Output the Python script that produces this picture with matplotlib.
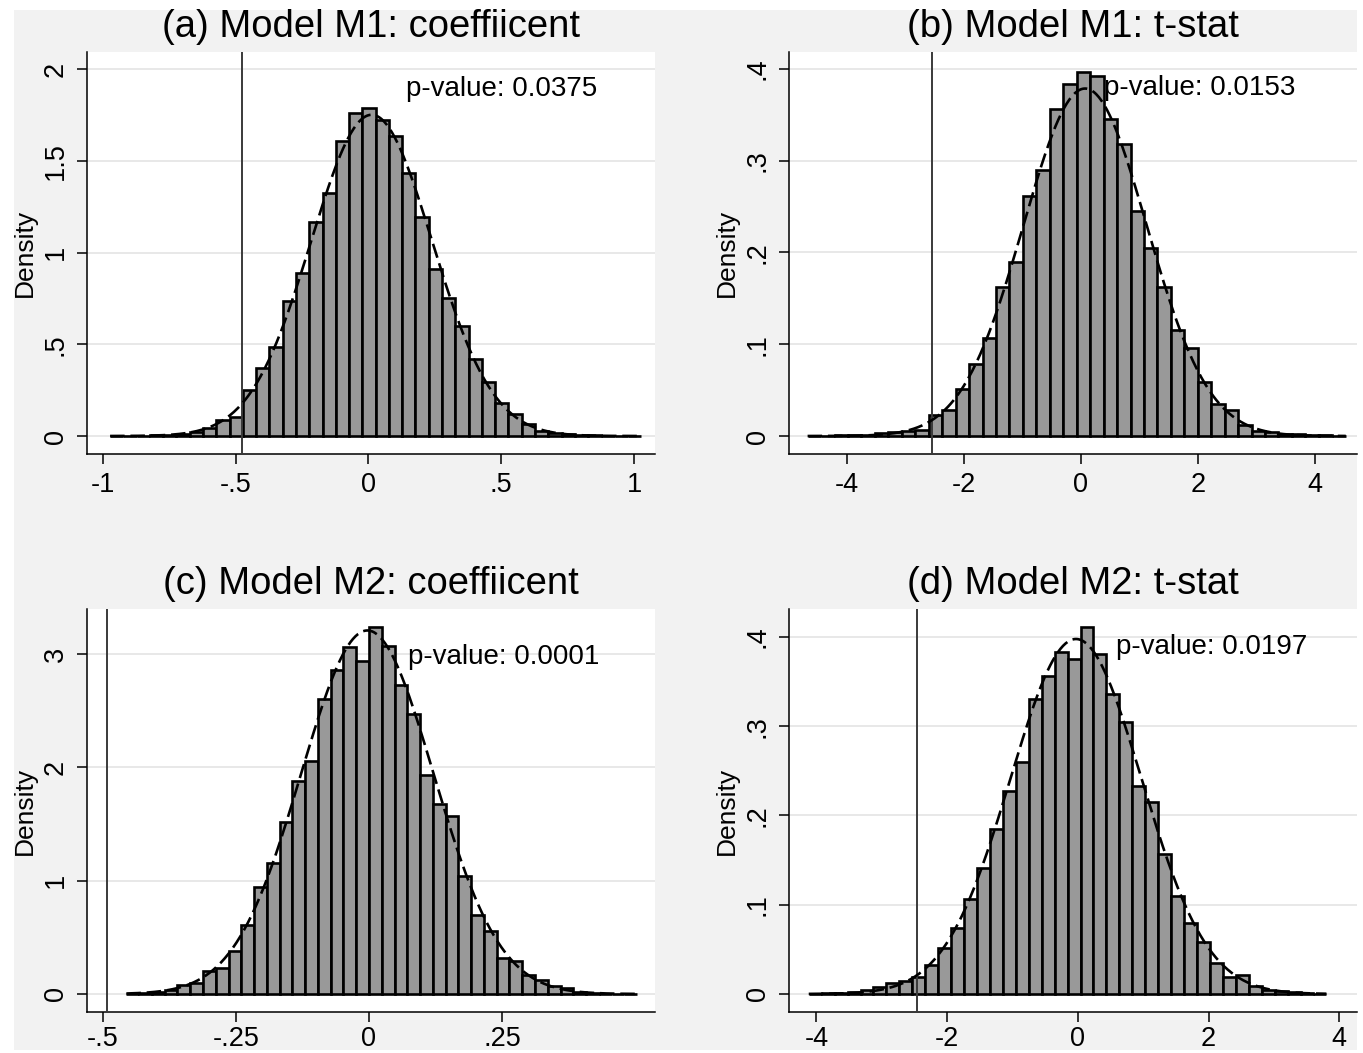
import matplotlib
matplotlib.use('Agg')
import matplotlib.pyplot as plt
from matplotlib.patches import Rectangle
import numpy as np

plt.rcParams['font.family'] = ['Liberation Sans', 'DejaVu Sans']

# ---- data (density per bin) ----
titles = ['(a) Model M1: coeffiicent', '(b) Model M1: t-stat',
          '(c) Model M2: coeffiicent', '(d) Model M2: t-stat']
pvalues = ['p-value: 0.0375', 'p-value: 0.0153', 'p-value: 0.0001', 'p-value: 0.0197']

a_start, a_width = -0.973, 0.05
a_heights = [0.0, 0.001, 0.002, 0.003, 0.006, 0.012, 0.02,
             0.045, 0.085, 0.104, 0.249, 0.372, 0.485, 0.736, 0.886, 1.168,
             1.326, 1.608, 1.762, 1.789, 1.720, 1.635, 1.435, 1.193, 0.908,
             0.750, 0.599, 0.421, 0.294, 0.178, 0.118, 0.064, 0.027, 0.018,
             0.01, 0.006, 0.003, 0.002, 0.001, 0.002]
a_obs = -0.475

b_start, b_width = -4.672, 0.23
b_heights = [0.0003, 0.0005, 0.0008, 0.001, 0.0015, 0.003, 0.004,
             0.005, 0.007, 0.023, 0.028, 0.051, 0.079, 0.107, 0.162, 0.190,
             0.262, 0.290, 0.356, 0.384, 0.397, 0.392, 0.346, 0.318, 0.245,
             0.205, 0.162, 0.115, 0.096, 0.059, 0.035, 0.028, 0.012, 0.006,
             0.004, 0.002, 0.002, 0.001, 0.001, 0.0005]
b_obs = -2.545

c_start, c_width = -0.456, 0.024
c_heights = [0.004, 0.008, 0.02, 0.035,
             0.079, 0.097, 0.2, 0.229, 0.376, 0.609, 0.947, 1.156, 1.521,
             1.876, 2.059, 2.603, 2.862, 3.065, 2.941, 3.235, 3.074, 2.729,
             2.471, 1.932, 1.676, 1.568, 1.038, 0.697, 0.559, 0.315, 0.294,
             0.168, 0.124, 0.074, 0.053, 0.015,
             0.008, 0.004, 0.003, 0.002]
c_obs = -0.4915

d_start, d_width = -4.118, 0.198
d_heights = [0.0005, 0.0008, 0.001, 0.002, 0.004, 0.008,
             0.012, 0.014, 0.019, 0.033, 0.052, 0.074, 0.106, 0.141, 0.185,
             0.227, 0.260, 0.330, 0.356, 0.383, 0.375, 0.411, 0.381, 0.336,
             0.305, 0.233, 0.215, 0.157, 0.110, 0.080, 0.058, 0.035, 0.019,
             0.021, 0.009, 0.005,
             0.003, 0.002, 0.001, 0.0005]
d_obs = -2.457

a_xticks, a_xlabels = [-1, -0.5, 0, 0.5, 1], ['-1', '-.5', '0', '.5', '1']
a_yticks, a_ylabels = [0, 0.5, 1, 1.5, 2], ['0', '.5', '1', '1.5', '2']
b_xticks, b_xlabels = [-4, -2, 0, 2, 4], ['-4', '-2', '0', '2', '4']
b_yticks, b_ylabels = [0, 0.1, 0.2, 0.3, 0.4], ['0', '.1', '.2', '.3', '.4']
c_xticks, c_xlabels = [-0.5, -0.25, 0, 0.25], ['-.5', '-.25', '0', '.25']
c_yticks, c_ylabels = [0, 1, 2, 3], ['0', '1', '2', '3']
d_xticks, d_xlabels = [-4, -2, 0, 2, 4], ['-4', '-2', '0', '2', '4']
d_yticks, d_ylabels = [0, 0.1, 0.2, 0.3, 0.4], ['0', '.1', '.2', '.3', '.4']

W, H = 1363, 1053
fig = plt.figure(figsize=(W / 100, H / 100), dpi=100, facecolor='white')
fig.patches.append(Rectangle((14 / W, 3 / H), (1357 - 14) / W, (1043 - 3) / H,
                             transform=fig.transFigure, facecolor='#f2f2f2',
                             edgecolor='none', zorder=-10))


def draw_panel(rect, start, width, heights, obs, xticks, xlabels, yticks, ylabels,
               xlim, ylim, title, ptext, ppos, xpad=6):
    ax = fig.add_axes(rect)
    ax.set_facecolor('white')
    heights = np.array(heights)
    edges = start + width * np.arange(len(heights) + 1)
    ax.bar(edges[:-1], heights, width=width, align='edge', color='#999999',
           edgecolor='black', linewidth=1.9, zorder=2)
    # normal density from the histogram's own mean and sd
    centers = edges[:-1] + width / 2
    wts = heights * width / np.sum(heights * width)
    mu = np.sum(wts * centers)
    sd = np.sqrt(np.sum(wts * (centers - mu) ** 2))
    xs = np.linspace(edges[0], edges[-1], 400)
    ax.plot(xs, np.exp(-0.5 * ((xs - mu) / sd) ** 2) / (sd * np.sqrt(2 * np.pi)),
            color='black', lw=1.9, dashes=(5.5, 2.2), zorder=4)
    ax.axvline(obs, color='#3a3a3a', lw=1.4, zorder=3)
    ax.set_xlim(xlim)
    ax.set_ylim(ylim)
    ax.set_xticks(xticks)
    ax.set_xticklabels(xlabels, fontsize=19.5)
    ax.set_yticks(yticks)
    ax.set_yticklabels(ylabels, fontsize=19.5, rotation=90, va='center')
    ax.tick_params(direction='out', length=7, width=1.1)
    ax.tick_params(axis='x', pad=xpad)
    ax.tick_params(axis='y', pad=6)
    ax.yaxis.grid(True, color='#e6e6e6', lw=1.3)
    ax.set_axisbelow(True)
    for s in ['top', 'right']:
        ax.spines[s].set_visible(False)
    for s in ['left', 'bottom']:
        ax.spines[s].set_linewidth(1.1)
    ax.text(0.5, 1 + 25 / 402, title, transform=ax.transAxes, ha='center',
            va='center', fontsize=27.5)
    ax.text(-62 / 568, 0.5, 'Density', transform=ax.transAxes, rotation=90,
            ha='center', va='center', fontsize=19)
    ax.text(ppos[0], ppos[1], ptext, ha='left', va='center', fontsize=20, zorder=5)
    return ax


top_row = 1 - 454 / H
bot_row = 1 - 1012 / H
left_col = 87 / W
right_col = 789 / W
pw = 568 / W
ph_top = 402 / H
ph_bot = 403 / H

draw_panel([left_col, top_row, pw, ph_top], a_start, a_width, a_heights, a_obs,
           a_xticks, a_xlabels, a_yticks, a_ylabels, (-1.060, 1.079), (-0.098, 2.093),
           titles[0], pvalues[0], (0.143, 1.89))
draw_panel([right_col, top_row, pw, ph_top], b_start, b_width, b_heights, b_obs,
           b_xticks, b_xlabels, b_yticks, b_ylabels, (-4.99, 4.72), (-0.0196, 0.4185),
           titles[1], pvalues[1], (0.40, 0.379))
draw_panel([left_col, bot_row, pw, ph_bot], c_start, c_width, c_heights, c_obs,
           c_xticks, c_xlabels, c_yticks, c_ylabels, (-0.530, 0.5376), (-0.159, 3.397),
           titles[2], pvalues[2], (0.073, 2.977), xpad=3)
draw_panel([right_col, bot_row, pw, ph_bot], d_start, d_width, d_heights, d_obs,
           d_xticks, d_xlabels, d_yticks, d_ylabels, (-4.42, 4.27), (-0.0202, 0.4314),
           titles[3], pvalues[3], (0.589, 0.389), xpad=3)

fig.savefig('out.png', dpi=100, facecolor=fig.get_facecolor())
